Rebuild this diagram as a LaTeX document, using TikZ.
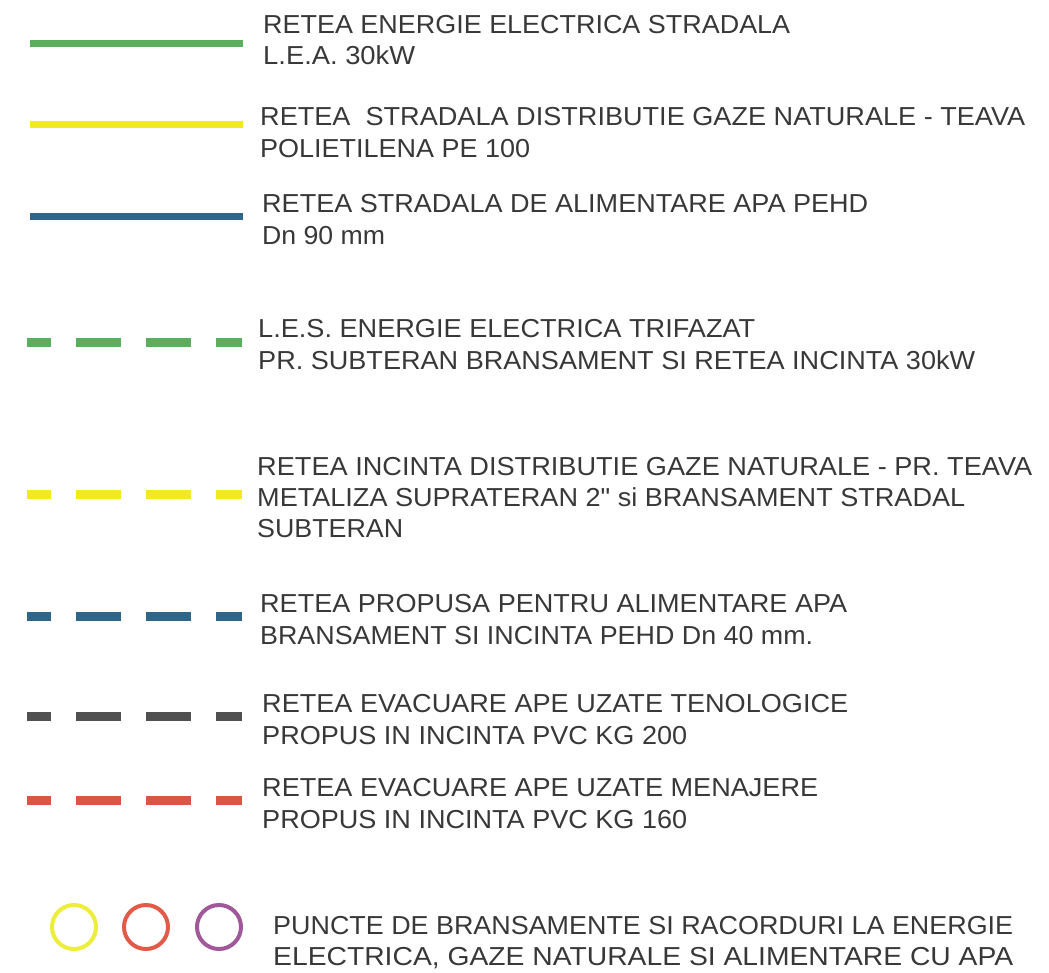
\documentclass[tikz,border=0pt]{standalone}
\usepackage{fontspec}
\setmainfont{Liberation Sans}[Ligatures=TeXOff]
\newlength\fitlen
\newcommand\fitw[2]{\settowidth\fitlen{#2}\pgfmathsetmacro\fitf{#1/\fitlen}\scalebox{\fitf}[1]{#2}}
\definecolor{cgreen}{HTML}{5BAE5B}
\definecolor{cyellow}{HTML}{F3EA1C}
\definecolor{cblue}{HTML}{2F6588}
\definecolor{cgrey}{HTML}{505050}
\definecolor{cred}{HTML}{DC5444}
\definecolor{cy2}{HTML}{EDED3C}
\definecolor{cr2}{HTML}{E25A48}
\definecolor{cpurple}{HTML}{A05898}
\definecolor{ctext}{HTML}{383838}
\tikzset{
  solidln/.style={line width=7pt},
  dashln/.style={line width=9pt, dash pattern=on 45pt off 25pt, dash phase=21pt},
  txt/.style={anchor=base west, inner sep=0pt, text=ctext, font=\fontsize{26}{26}\selectfont},
  ring/.style={circle, draw, line width=4pt, minimum size=44pt, inner sep=0pt}
}
\begin{document}
\begin{tikzpicture}[x=1pt,y=-1pt]
\useasboundingbox (0,0) rectangle (1049,972);
% solid lines
\coordinate (a1) at (30,43); \coordinate (b1) at (243,43);
\coordinate (a2) at (30,124); \coordinate (b2) at (243,124);
\coordinate (a3) at (30,216); \coordinate (b3) at (243,216);
\draw[solidln, cgreen] (a1) -- (b1);
\draw[solidln, cyellow] (a2) -- (b2);
\draw[solidln, cblue] (a3) -- (b3);
% dashed lines
\coordinate (a4) at (27,342); \coordinate (b4) at (242,342);
\coordinate (a5) at (27,494); \coordinate (b5) at (242,494);
\coordinate (a6) at (27,616); \coordinate (b6) at (242,616);
\coordinate (a7) at (27,716); \coordinate (b7) at (242,716);
\coordinate (a8) at (27,800); \coordinate (b8) at (242,800);
\draw[dashln, cgreen] (a4) -- (b4);
\draw[dashln, cyellow] (a5) -- (b5);
\draw[dashln, cblue] (a6) -- (b6);
\draw[dashln, cgrey] (a7) -- (b7);
\draw[dashln, cred] (a8) -- (b8);
% circles
\node[ring, draw=cy2] (c1) at (74,927) {};
\node[ring, draw=cr2] (c2) at (146,927) {};
\node[ring, draw=cpurple] (c3) at (219,927) {};
% texts
\node[txt] (t1a) at (263,33) {\fitw{527}{RETEA ENERGIE ELECTRICA STRADALA}};
\node[txt] (t1b) at (263,64) {\fitw{152}{L.E.A. 30kW}};
\node[txt] (t2a) at (260,125) {\fitw{765}{RETEA\ \ STRADALA DISTRIBUTIE GAZE NATURALE - TEAVA}};
\node[txt] (t2b) at (260,157) {\fitw{270}{POLIETILENA PE 100}};
\node[txt] (t3a) at (262,212) {\fitw{606}{RETEA STRADALA DE ALIMENTARE APA PEHD}};
\node[txt] (t3b) at (262,244) {\fitw{123}{Dn 90 mm}};
\node[txt] (t4a) at (258,337) {\fitw{497}{L.E.S. ENERGIE ELECTRICA TRIFAZAT}};
\node[txt] (t4b) at (258,369) {\fitw{717}{PR. SUBTERAN BRANSAMENT SI RETEA INCINTA 30kW}};
\node[txt] (t5a) at (257,475) {\fitw{775}{RETEA INCINTA DISTRIBUTIE GAZE NATURALE - PR. TEAVA}};
\node[txt] (t5b) at (257,506) {\fitw{708}{METALIZA SUPRATERAN 2" si BRANSAMENT STRADAL}};
\node[txt] (t5c) at (257,537) {\fitw{146}{SUBTERAN}};
\node[txt] (t6a) at (260,612) {\fitw{587}{RETEA PROPUSA PENTRU ALIMENTARE APA}};
\node[txt] (t6b) at (260,644) {\fitw{553}{BRANSAMENT SI INCINTA PEHD Dn 40 mm.}};
\node[txt] (t7a) at (262,712) {\fitw{586}{RETEA EVACUARE APE UZATE TENOLOGICE}};
\node[txt] (t7b) at (262,744) {\fitw{425}{PROPUS IN INCINTA PVC KG 200}};
\node[txt] (t8a) at (262,796) {\fitw{556}{RETEA EVACUARE APE UZATE MENAJERE}};
\node[txt] (t8b) at (262,828) {\fitw{425}{PROPUS IN INCINTA PVC KG 160}};
\node[txt] (t9a) at (273,934) {\fitw{740}{PUNCTE DE BRANSAMENTE SI RACORDURI LA ENERGIE}};
\node[txt] (t9b) at (273,965) {\fitw{740}{ELECTRICA, GAZE NATURALE SI ALIMENTARE CU APA}};
\end{tikzpicture}
\end{document}
